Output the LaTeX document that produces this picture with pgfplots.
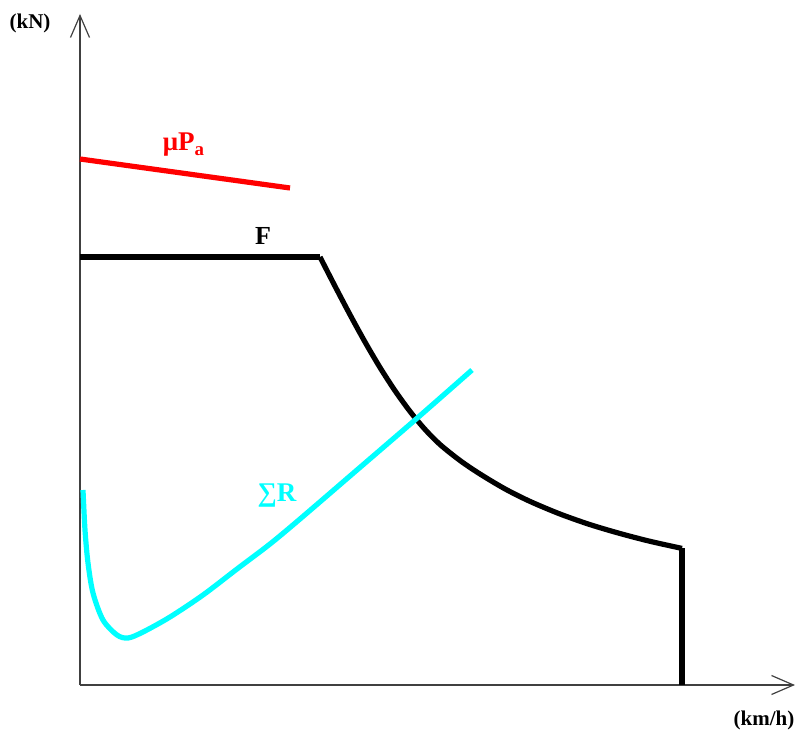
\documentclass[border=0pt]{standalone}
\usepackage{pgfplots}
\pgfplotsset{compat=1.18}
\usepackage{fontspec}
\setmainfont{Liberation Serif}
\usetikzlibrary{arrows.meta}

\definecolor{traction}{RGB}{0,0,0}
\definecolor{adhesion}{RGB}{255,0,0}
\definecolor{resist}{RGB}{0,255,255}

\begin{document}
\begin{tikzpicture}
\begin{axis}[
  x=0.5pt, y=0.5pt,
  xmin=0, xmax=715, ymin=0, ymax=671,
  axis lines=left,
  axis line style={line width=0.7pt, draw=black!75,
    -{Straight Barb[length=11pt, width=9.5pt, line width=0.6pt]}},
  xtick=\empty, ytick=\empty,
  clip=false,
  every node/.append style={inner sep=0pt},
]
% adhesion limit
\addplot[adhesion, line width=2.6pt] coordinates {(0,526) (210,497)};
% tractive effort: constant part, hyperbolic part, cut-off at top speed
\addplot[traction, line width=2.6pt, line join=miter] coordinates {(0,428) (240,428)};
\addplot[traction, line width=2.6pt, smooth] coordinates {
  (240,428) (255,398.8) (270,370.3) (285,343.0) (300,317.5) (315,294.3)
  (330,273.6) (345,255.6) (360,240.5) (380,224.5) (400,211.0) (425,196.1)
  (450,183.6) (480,171.0) (510,160.4) (540,151.5) (570,143.7) (602,136.6)};
\addplot[traction, line width=2.6pt, line join=miter] coordinates {(602,136.6) (602,0)};
% total resistance
\addplot[resist, line width=2.6pt, smooth] coordinates {
  (3,195) (5,155) (8,122) (13,92) (23,65) (37,50) (48,47) (63,53) (90,68)
  (123,90) (157,116) (190,141) (220,166) (270,209) (335,265) (392,315)};
% labels
\node[adhesion, font=\bfseries\fontsize{13.5}{15}\selectfont] at (axis cs:104,540) {μP\textsubscript{a}};
\node[traction, font=\bfseries\fontsize{13}{15}\selectfont] at (axis cs:183,449) {F};
\node[resist, font=\bfseries\fontsize{13.5}{15}\selectfont] at (axis cs:197,189) {∑R};
\node[font=\bfseries\fontsize{10.5}{12}\selectfont] at (axis cs:-50,662) {(kN)};
\node[font=\bfseries\fontsize{10.5}{12}\selectfont] at (axis cs:684,-35) {(km/h)};
\coordinate (bl) at (axis cs:-80,-48);
\coordinate (tr) at (axis cs:715,685);
\end{axis}
\pgfresetboundingbox
\useasboundingbox (bl) rectangle (tr);
\end{tikzpicture}
\end{document}
